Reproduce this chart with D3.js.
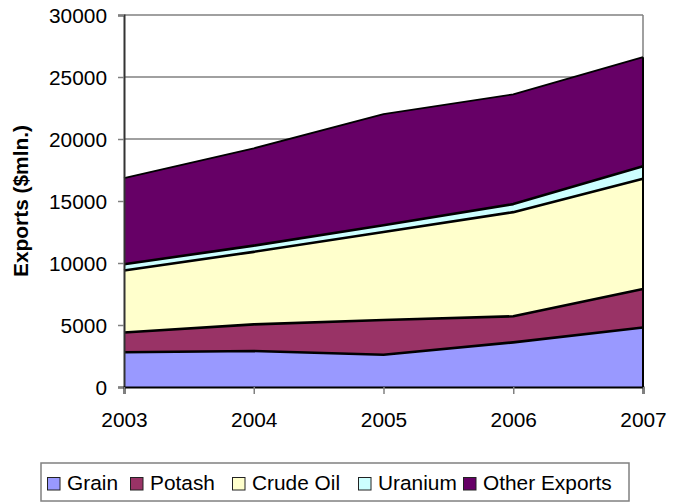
<!DOCTYPE html>
<html>
<head>
<meta charset="utf-8">
<script src="https://cdn.jsdelivr.net/npm/d3@7"></script>
<style>
  html, body { margin: 0; padding: 0; background: #fff; }
  svg { display: block; }
  text { font-family: "Liberation Sans", Arial, sans-serif; fill: #000; }
</style>
</head>
<body>
<svg id="chart" width="681" height="504"></svg>
<script>
// ---- data ----
const years = [2003, 2004, 2005, 2006, 2007];
const seriesNames = ["Grain", "Potash", "Crude Oil", "Uranium", "Other Exports"];
const grain = [2800, 2900, 2600, 3600, 4800];
const potash = [1600, 2150, 2800, 2100, 3100];
const crudeOil = [5000, 5850, 7100, 8400, 8900];
const uranium = [500, 500, 550, 650, 1000];
const otherExports = [6950, 7850, 8950, 8850, 8800];
const yTicks = [0, 5000, 10000, 15000, 20000, 25000, 30000];
const yTitle = "Exports ($mln.)";

// ---- style / layout ----
const colors = ["#9999FF", "#993366", "#FFFFCC", "#CCFFFF", "#660066"];
const plot = { left: 124, right: 643, top: 15, bottom: 387 };
const legendBox = { x: 41, y: 463, w: 588, h: 38 };
const legendItemX = [47, 130, 232, 358, 463];
const fontSize = 19.5, stretch = 1.07;

const table = years.map((yr, i) => ({
  year: yr,
  "Grain": grain[i],
  "Potash": potash[i],
  "Crude Oil": crudeOil[i],
  "Uranium": uranium[i],
  "Other Exports": otherExports[i]
}));
const stacked = d3.stack().keys(seriesNames)(table);

const svg = d3.select("#chart");
const x = d3.scalePoint().domain(years).range([plot.left, plot.right]);
const y = d3.scaleLinear().domain([0, 30000]).range([plot.bottom, plot.top]);

// gridlines
svg.append("g").selectAll("line").data(yTicks.filter(t => t > 0)).join("line")
  .attr("x1", plot.left).attr("x2", plot.right)
  .attr("y1", d => y(d)).attr("y2", d => y(d))
  .attr("stroke", "#808080").attr("stroke-width", 1.5);
// right plot edge
svg.append("line").attr("x1", plot.right).attr("x2", plot.right)
  .attr("y1", plot.top).attr("y2", plot.bottom)
  .attr("stroke", "#808080").attr("stroke-width", 1.5);

// areas
const area = d3.area().x(d => x(d.data.year)).y0(d => y(d[0])).y1(d => y(d[1]));
svg.append("g").selectAll("path").data(stacked).join("path")
  .attr("d", area)
  .attr("fill", (d, i) => colors[i])
  .attr("stroke", "none");

// boundary lines
const line = d3.line().x(d => x(d.data.year)).y(d => y(d[1]));
svg.append("g").selectAll("path").data(stacked).join("path")
  .attr("d", line)
  .attr("fill", "none")
  .attr("stroke", "#000")
  .attr("stroke-width", (d, i) => i === stacked.length - 1 ? 1.8 : 2.6)
  .attr("stroke-linejoin", "round");
// right edge of the stack
const topSeries = stacked[stacked.length - 1];
svg.append("line")
  .attr("x1", plot.right).attr("x2", plot.right)
  .attr("y1", y(0)).attr("y2", y(topSeries[topSeries.length - 1][1]))
  .attr("stroke", "#000").attr("stroke-width", 2);

// y axis
const yAxis = d3.axisLeft(y).tickValues(yTicks).tickSize(6).tickPadding(0).tickFormat(d3.format("d"));
const gy = svg.append("g").attr("transform", `translate(${plot.left},0)`).call(yAxis);
gy.select(".domain").attr("stroke", "#333").attr("stroke-width", 2);
gy.selectAll(".tick line").attr("stroke", "#808080").attr("stroke-width", 1.5);
gy.selectAll(".tick text")
  .attr("x", null).attr("dy", null)
  .attr("font-size", fontSize)
  .attr("text-anchor", "end")
  .attr("dominant-baseline", "central")
  .attr("transform", `translate(-17,1) scale(${stretch},1)`)
  .style("font-family", '"Liberation Sans", Arial, sans-serif');

// x axis
const xAxis = d3.axisBottom(x).tickSize(7).tickPadding(0);
const gx = svg.append("g").attr("transform", `translate(0,${plot.bottom})`).call(xAxis);
gx.select(".domain").attr("stroke", "#000").attr("stroke-width", 2);
gx.selectAll(".tick line").attr("stroke", "#808080").attr("stroke-width", 1.5);
gx.selectAll(".tick text")
  .attr("y", null).attr("dy", null)
  .attr("font-size", fontSize)
  .attr("text-anchor", "middle")
  .attr("transform", `translate(0,40) scale(${stretch},1)`)
  .style("font-family", '"Liberation Sans", Arial, sans-serif');

// y title
svg.append("text")
  .attr("transform", `translate(28,${(plot.top + plot.bottom) / 2}) rotate(-90) scale(${stretch},1)`)
  .attr("text-anchor", "middle")
  .attr("font-size", fontSize)
  .attr("font-weight", "bold")
  .text(yTitle);

// legend
svg.append("rect")
  .attr("x", legendBox.x).attr("y", legendBox.y)
  .attr("width", legendBox.w).attr("height", legendBox.h)
  .attr("fill", "#fff").attr("stroke", "#808080").attr("stroke-width", 1.5);
const lg = svg.append("g").selectAll("g").data(seriesNames).join("g")
  .attr("transform", (d, i) => `translate(${legendItemX[i]},0)`);
lg.append("rect")
  .attr("x", 0.5).attr("y", 477.5).attr("width", 12.5).attr("height", 12.5)
  .attr("fill", (d, i) => colors[i]).attr("stroke", "#222").attr("stroke-width", 1);
lg.append("text")
  .attr("transform", `translate(20,490) scale(${stretch},1)`)
  .attr("font-size", fontSize)
  .text(d => d);
</script>
</body>
</html>
